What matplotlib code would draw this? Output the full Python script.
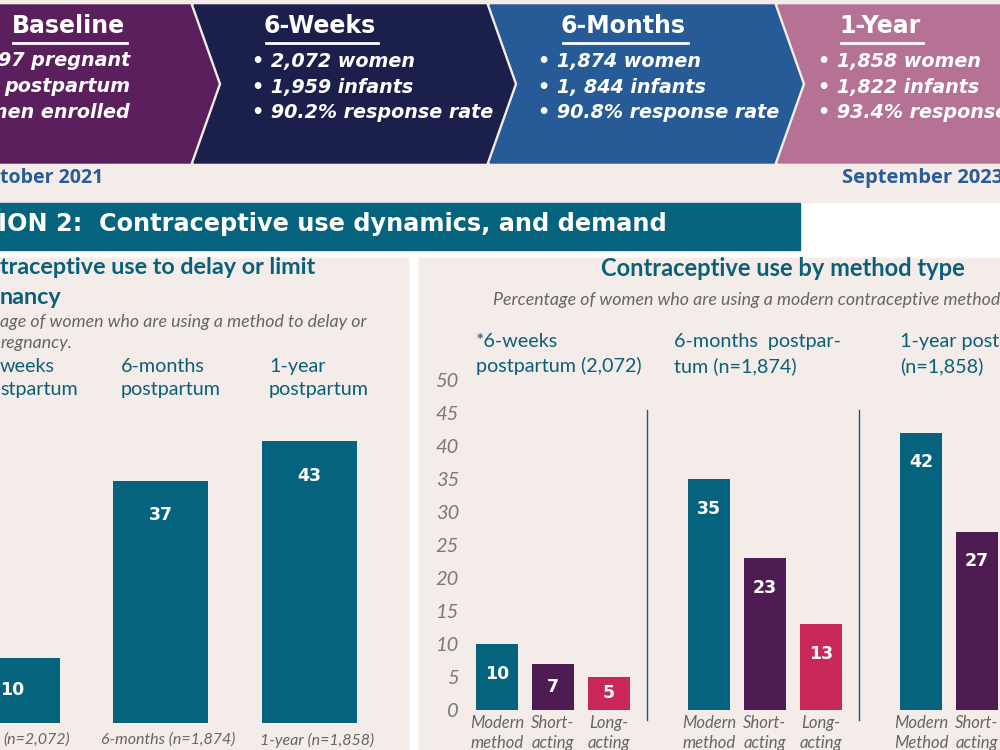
import matplotlib
matplotlib.use("Agg")
import matplotlib.pyplot as plt
from matplotlib.patches import Polygon, Rectangle

# ---- data ----
stages = ["Baseline", "6-Weeks", "6-Months", "1-Year"]
stage_lines = [
    ["97 pregnant", "postpartum", "nen enrolled"],
    ["\u2022 2,072 women", "\u2022 1,959 infants", "\u2022 90.2% response rate"],
    ["\u2022 1,874 women", "\u2022 1, 844 infants", "\u2022 90.8% response rate"],
    ["\u2022 1,858 women", "\u2022 1,822 infants", "\u2022 93.4% response rate"],
]
start_date = "tober 2021"
end_date = "September 2023"
section_title = "ION 2:  Contraceptive use dynamics, and demand"

use_title = ["traceptive use to delay or limit", "nancy"]
use_subtitle = ["age of women who are using a method to delay or", "regnancy."]
use_periods = ["weeks\nstpartum", "6-months\npostpartum", "1-year\npostpartum"]
use_xlabels = ["(n=2,072)", "6-months (n=1,874)", "1-year (n=1,858)"]
use_values = [10, 37, 43]

method_title = "Contraceptive use by method type"
method_subtitle = "Percentage of women who are using a modern contraceptive method"
method_groups = ["*6-weeks\npostpartum (2,072)", "6-months  postpar-\ntum (n=1,874)",
                 "1-year postpartum\n(n=1,858)"]
method_types = [["Modern\nmethod", "Short-\nacting", "Long-\nacting"],
                ["Modern\nmethod", "Short-\nacting", "Long-\nacting"],
                ["Modern\nMethod", "Short-\nacting"]]
method_values = [[10, 7, 5], [35, 23, 13], [42, 27]]

# ---- style ----
BEIGE = "#f3ece9"
TEAL = "#05637d"
TEAL_TXT = "#0b6079"
PURPLE = "#4f1b53"
PINK = "#c9265a"
GRAY = "#666666"
DATE = "#2c5c96"
stage_colors = ["#5a1f5c", "#1b1f4b", "#275b98", "#b57294"]
bar_colors = [TEAL, PURPLE, PINK]
HEAD = "DejaVu Sans"   # wide bold face, close to the original Montserrat
DATEF = "Open Sans"
BODY = "Lato"

W, H = 1000, 750
fig = plt.figure(figsize=(10, 7.5), dpi=100, facecolor="white")


def box(l, t, r, b):
    return [l / W, 1 - b / H, (r - l) / W, (b - t) / H]


bg = fig.add_axes([0, 0, 1, 1])
bg.set_xlim(0, W)
bg.set_ylim(H, 0)
bg.axis("off")

# background areas
bg.add_patch(Rectangle((0, 0), W, 202, color=BEIGE, zorder=0))
bg.add_patch(Rectangle((-5, 257), 414, 500, facecolor=BEIGE, edgecolor="#faf7f6", lw=1, zorder=0))
bg.add_patch(Rectangle((418, 257), 590, 500, facecolor=BEIGE, edgecolor="#faf7f6", lw=1, zorder=0))

# timeline chevrons
chev_x = [(-60, 190), (194, 486), (490, 774), (778, 1100)]
depth, top, bot = 28, 5, 163
mid = (top + bot) / 2
header_x = [68, 320, 623, 880]
line_x = [None, 252, 538, 818]
header_txt = []
for i, (xl, xr) in enumerate(chev_x):
    pts = [(xl, top), (xr, top), (xr + depth, mid), (xr, bot), (xl, bot), (xl + depth, mid)]
    bg.add_patch(Polygon(pts, closed=True, color=stage_colors[i], zorder=1))
    t = bg.text(header_x[i], 26, stages[i], color="white", fontsize=17, fontweight="bold",
                family=HEAD, ha="center", va="center", zorder=3)
    header_txt.append(t)
    for j, line in enumerate(stage_lines[i]):
        y = 61 + j * 26
        if i == 0:
            bg.text(130, y, line, color="white", fontsize=13.8, fontweight="bold",
                    style="italic", family=HEAD, ha="right", va="center", zorder=3)
        else:
            bg.text(line_x[i], y, line, color="white", fontsize=13.8, fontweight="bold",
                    style="italic", family=HEAD, ha="left", va="center", zorder=3)

fig.canvas.draw()
inv = bg.transData.inverted()
for t in header_txt:
    bb = t.get_window_extent()
    (x0, _), (x1, _) = inv.transform([(bb.x0, bb.y0), (bb.x1, bb.y0)])
    bg.plot([x0 + 2, x1 + 2], [43, 43], color="white", lw=2, zorder=3)

bg.text(0, 178, start_date, color=DATE, fontsize=14, fontweight="bold", family=DATEF,
        ha="left", va="center")
bg.text(1003, 178, end_date, color=DATE, fontsize=14.5, fontweight="bold", family=DATEF,
        ha="right", va="center")

# section header
bg.add_patch(Rectangle((0, 203), 800, 47, color=TEAL, zorder=1))
bg.text(-2, 224, section_title, color="white", fontsize=17.3, fontweight="bold", family=HEAD,
        ha="left", va="center", zorder=2)

# ---- left panel: use to delay or limit ----
for j, line in enumerate(use_title):
    bg.text(0, 268 + j * 29, line, color=TEAL_TXT, fontsize=16.8, fontweight="bold",
            family=BODY, ha="left", va="center")
for j, line in enumerate(use_subtitle):
    bg.text(0, 322 + j * 21, line, color=GRAY, fontsize=12.8, style="italic",
            family=BODY, ha="left", va="center")

first_c, step = 12, 148.5
ax1 = fig.add_axes(box(0, 723 - 6.55 * 50, 410, 723))
ax1.set_xlim((0 - first_c) / step, (410 - first_c) / step)
ax1.set_ylim(0, 50)
ax1.axis("off")
pos1 = list(range(len(use_values)))
ax1.bar(pos1, use_values, width=95 / step, color=TEAL)
for p, v in zip(pos1, use_values):
    ax1.text(p, max(v - 5.3, v / 2), str(v), color="white", fontsize=12.5, fontweight="bold",
             family=HEAD, ha="center", va="center")
for p, lab in enumerate(use_periods):
    bg.text(max(first_c + p * step - 40, 0), 378, lab, color=TEAL_TXT, fontsize=14.2,
            family=BODY, ha="left", va="center", linespacing=1.45)
for p, lab in enumerate(use_xlabels):
    if p == 0:
        bg.text(3, 740, lab, color=GRAY, fontsize=11.5, style="italic", family=BODY,
                ha="left", va="center")
    else:
        bg.text(first_c + p * step + 8, 740, lab, color=GRAY, fontsize=11.5, style="italic",
                family=BODY, ha="center", va="center")

# ---- right panel: method type ----
bg.text(783, 268, method_title, color=TEAL_TXT, fontsize=17, fontweight="bold",
        family=BODY, ha="center", va="center")
bg.text(493, 300, method_subtitle, color=GRAY, fontsize=12.8, style="italic",
        family=BODY, ha="left", va="center")

zero_y, scale = 710, 6.6
ax2 = fig.add_axes(box(463, zero_y - scale * 50, 1000, zero_y))
ax2.set_xlim(463, 1000)
ax2.set_ylim(0, 50)
ax2.patch.set_alpha(0)
for s in ax2.spines.values():
    s.set_visible(False)
ax2.set_xticks([])
ax2.set_yticks(range(0, 51, 5))
ax2.tick_params(axis="y", length=0, pad=3)
for lab in ax2.get_yticklabels():
    lab.set_fontsize(14.5)
    lab.set_fontstyle("italic")
    lab.set_family(BODY)
    lab.set_color("#7a7a7a")

x0, bar_step, group_step, bw = 497, 56, 212, 42
for g, vals in enumerate(method_values):
    xs = [x0 + g * group_step + k * bar_step for k in range(len(vals))]
    ax2.bar(xs, vals, width=bw, color=bar_colors[:len(vals)])
    for x, v in zip(xs, vals):
        ax2.text(x, max(v - 4.5, v / 2), str(v), color="white", fontsize=12.5,
                 fontweight="bold", family=HEAD, ha="center", va="center")
    for x, lab in zip(xs, method_types[g]):
        bg.text(x, 733, lab, color=GRAY, fontsize=12, style="italic", family=BODY,
                ha="center", va="center", linespacing=1.25)
    bg.text(xs[0] - bw / 2 - (14 if g == 1 else 0), 354, method_groups[g], color=TEAL_TXT,
            fontsize=14.2, family=BODY, ha="left", va="center", linespacing=1.45)
    if g > 0:
        sep = x0 + g * group_step - (group_step - 2 * bar_step) / 2 - 12
        bg.plot([sep, sep], [410, 720], color=TEAL, lw=1)

fig.savefig("out.png", dpi=100, facecolor=fig.get_facecolor())
